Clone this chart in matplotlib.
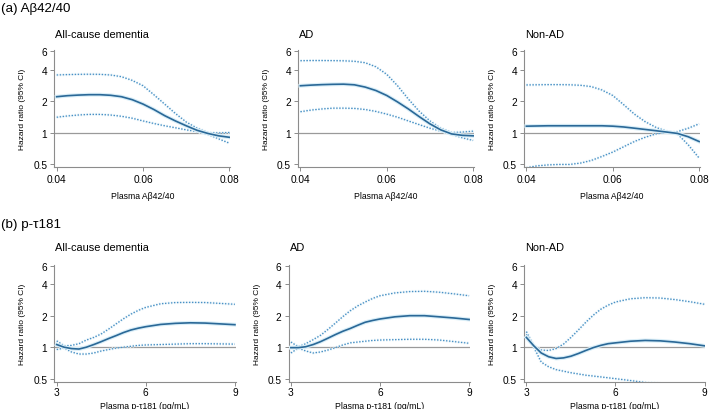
import matplotlib
matplotlib.use("Agg")
import matplotlib.pyplot as plt
import matplotlib.patheffects as pe

plt.rcParams['font.family'] = ['Liberation Sans', 'DejaVu Sans']

# ---- data ----
x_ab = [0.04, 0.0425, 0.045, 0.0475, 0.05, 0.0525, 0.055, 0.0575, 0.06,
        0.0625, 0.065, 0.0675, 0.07, 0.0725, 0.075, 0.0775, 0.08]
x_tau = [3.0, 3.25, 3.5, 3.75, 4.0, 4.25, 4.5, 4.75, 5.0, 5.25, 5.5, 5.75,
         6.0, 6.5, 7.0, 7.5, 8.0, 8.5, 9.0]

titles = ["All-cause dementia", "AD", "Non-AD"]

# Abeta42/40 panels: hazard ratio, lower and upper 95% CI
ab_hr = [
    [2.20, 2.25, 2.28, 2.30, 2.30, 2.27, 2.20, 2.06, 1.87, 1.66, 1.45, 1.29, 1.16, 1.05, 0.98, 0.93, 0.90],
    [2.80, 2.84, 2.87, 2.89, 2.90, 2.86, 2.72, 2.52, 2.26, 1.96, 1.68, 1.42, 1.21, 1.06, 0.97, 0.94, 0.93],
    [1.15, 1.155, 1.16, 1.16, 1.16, 1.16, 1.16, 1.16, 1.15, 1.13, 1.10, 1.07, 1.04, 1.01, 0.98, 0.91, 0.82],
]
ab_hi = [
    [3.55, 3.58, 3.60, 3.61, 3.60, 3.55, 3.42, 3.15, 2.80, 2.30, 1.87, 1.52, 1.26, 1.10, 1.00, 0.99, 1.00],
    [4.86, 4.88, 4.88, 4.87, 4.85, 4.80, 4.65, 4.25, 3.60, 2.80, 2.09, 1.60, 1.29, 1.10, 1.00, 1.01, 1.03],
    [2.85, 2.86, 2.87, 2.87, 2.86, 2.83, 2.75, 2.55, 2.26, 1.85, 1.50, 1.27, 1.12, 1.03, 0.97, 0.76, 0.57],
]
ab_lo = [
    [1.40, 1.44, 1.47, 1.49, 1.49, 1.47, 1.43, 1.37, 1.29, 1.22, 1.16, 1.11, 1.06, 1.02, 0.96, 0.87, 0.79],
    [1.58, 1.64, 1.68, 1.71, 1.71, 1.70, 1.66, 1.59, 1.50, 1.40, 1.29, 1.19, 1.10, 1.03, 0.96, 0.89, 0.84],
    [0.46, 0.48, 0.49, 0.495, 0.495, 0.51, 0.54, 0.59, 0.65, 0.73, 0.82, 0.90, 0.97, 1.00, 1.02, 1.10, 1.21],
]

# p-tau181 panels
tau_hr = [
    [1.06, 1.00, 0.97, 0.96, 1.00, 1.06, 1.13, 1.21, 1.29, 1.38, 1.46, 1.52, 1.57, 1.65, 1.69, 1.71, 1.70, 1.67, 1.64],
    [0.99, 0.99, 1.01, 1.06, 1.13, 1.22, 1.32, 1.42, 1.51, 1.62, 1.73, 1.80, 1.86, 1.95, 2.00, 2.00, 1.95, 1.90, 1.84],
    [1.24, 1.03, 0.88, 0.81, 0.78, 0.79, 0.82, 0.87, 0.93, 0.99, 1.04, 1.08, 1.10, 1.14, 1.16, 1.15, 1.12, 1.08, 1.03],
]
tau_hi = [
    [1.15, 1.03, 1.04, 1.08, 1.17, 1.24, 1.34, 1.49, 1.67, 1.87, 2.07, 2.25, 2.40, 2.60, 2.67, 2.68, 2.67, 2.62, 2.57],
    [1.12, 1.01, 1.08, 1.18, 1.30, 1.48, 1.70, 1.96, 2.23, 2.48, 2.70, 2.92, 3.10, 3.30, 3.40, 3.42, 3.35, 3.23, 3.10],
    [1.41, 1.03, 0.94, 0.93, 0.97, 1.07, 1.24, 1.46, 1.73, 2.02, 2.30, 2.52, 2.70, 2.90, 2.97, 2.95, 2.85, 2.72, 2.57],
]
tau_lo = [
    [0.95, 0.98, 0.90, 0.86, 0.86, 0.88, 0.92, 0.95, 0.98, 1.00, 1.02, 1.04, 1.05, 1.06, 1.07, 1.08, 1.08, 1.075, 1.07],
    [0.88, 0.98, 0.92, 0.88, 0.90, 0.94, 0.99, 1.05, 1.10, 1.12, 1.14, 1.16, 1.17, 1.18, 1.19, 1.19, 1.17, 1.13, 1.09],
    [1.33, 1.00, 0.72, 0.65, 0.61, 0.59, 0.57, 0.555, 0.54, 0.53, 0.52, 0.51, 0.50, 0.48, 0.46, 0.45, 0.44, 0.43, 0.42],
]

yticks = [0.5, 1, 2, 4, 6]
ytlabels = ["0.5", "1", "2", "4", "6"]

W, H = 709, 410
fig = plt.figure(figsize=(W / 100, H / 100), dpi=100)

solid_c = '#2a6897'
dot_c = '#4a90c4'
glow = [pe.Stroke(linewidth=2.8, foreground='#d9eef8'), pe.Normal()]
glow_d = [pe.Stroke(linewidth=2.2, foreground='#e4f3fa'), pe.Normal()]


def px_axes(left, top, width, height):
    return fig.add_axes([left / W, 1 - (top + height) / H, width / W, height / H])


def draw(ax, x, hr, lo, hi, xlim, xticks, xtl, xlabel, xpad, lpad):
    ax.set_yscale('log')
    ax.plot(xlim, [1, 1], color='#9a9a9a', lw=0.9, zorder=1)
    ax.plot(x, hi, color=dot_c, lw=0.9, ls=(0, (1.2, 1.2)), path_effects=glow_d, zorder=2)
    ax.plot(x, lo, color=dot_c, lw=0.9, ls=(0, (1.2, 1.2)), path_effects=glow_d, zorder=2)
    ax.plot(x, hr, color=solid_c, lw=1.2, path_effects=glow, zorder=3)
    ax.set_xlim(xlim)
    ax.set_ylim(0.468, 6.1)
    ax.set_yticks(yticks)
    ax.set_yticklabels(ytlabels)
    ax.yaxis.set_minor_locator(plt.NullLocator())
    ax.set_xticks(xticks)
    ax.set_xticklabels(xtl)
    for s in ['top', 'right']:
        ax.spines[s].set_visible(False)
    for s in ['left', 'bottom']:
        ax.spines[s].set_color('#8c8c8c')
        ax.spines[s].set_linewidth(0.8)
    ax.tick_params(length=3, width=0.7, color='#8c8c8c', labelsize=7.3, pad=2)
    ax.tick_params(axis='x', pad=xpad)
    ax.set_ylabel("Hazard ratio (95% CI)", fontsize=6, labelpad=5)
    ax.set_xlabel(xlabel, fontsize=6.2, labelpad=lpad)


# row a
lefts_a = [54.3, 298, 524]
for i in range(3):
    ax = px_axes(lefts_a[i], 51.4, 176, 116.6)
    draw(ax, x_ab, ab_hr[i], ab_lo[i], ab_hi[i], (0.03945, 0.0802),
         [0.04, 0.06, 0.08], ["0.04", "0.06", "0.08"], "Plasma Aβ42/40", 2, 5)
    fig.text((lefts_a[i] + 1) / W, 1 - 35 / H, titles[i], fontsize=7.9, va='center', ha='left')

# row b
lefts_b = [54.3, 288.5, 524]
for i in range(3):
    ax = px_axes(lefts_b[i], 266, 181.5, 116.7)
    draw(ax, x_tau, tau_hr[i], tau_lo[i], tau_hi[i], (2.92, 9.03),
         [3, 6, 9], ["3", "6", "9"], "Plasma p-τ181 (pg/mL)", 0.5, 3)
    fig.text((lefts_b[i] + 1) / W, 1 - 248 / H, titles[i], fontsize=7.9, va='center', ha='left')

fig.text(1 / W, 1 - 9 / H, "(a) Aβ42/40", fontsize=9.6, va='center', ha='left')
fig.text(1 / W, 1 - 225 / H, "(b) p-τ181", fontsize=9.6, va='center', ha='left')

fig.savefig("out.png", dpi=100)
